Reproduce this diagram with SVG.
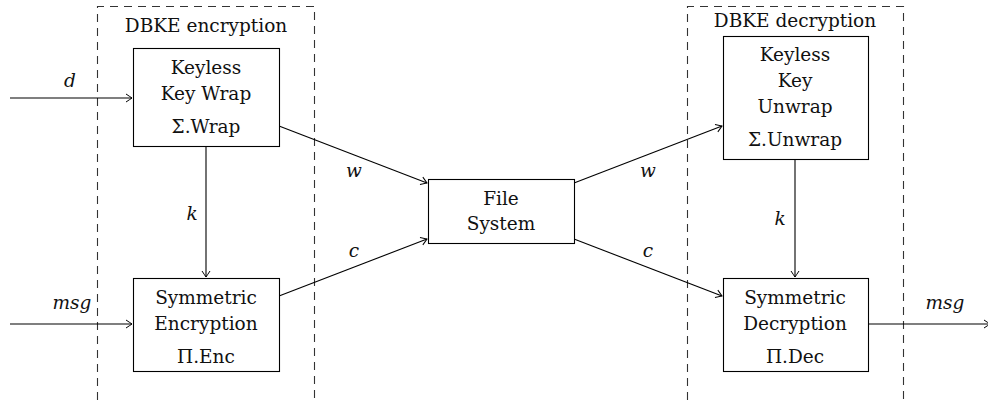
<svg xmlns="http://www.w3.org/2000/svg" width="988" height="402" viewBox="0 0 988 402">
<defs>
<style>
.box{fill:#fff;stroke:#000;stroke-width:1.1}
.dash{fill:none;stroke:#333;stroke-width:1.1;stroke-dasharray:8 6}
.c{fill:none;stroke:#000;stroke-width:1.1}
text{font-family:'DejaVu Serif','Liberation Serif',serif;font-size:18.5px;fill:#111;text-anchor:middle}
.m{font-style:italic}
</style>
<marker id="ar" viewBox="-8 -5 10 10" markerWidth="10" markerHeight="10" refX="0" refY="0" orient="auto" markerUnits="userSpaceOnUse">
<path d="M-6,-4 Q-1.5,-1 0,0 Q-1.5,1 -6,4" fill="none" stroke="#000" stroke-width="1"/>
</marker>
</defs>
<rect width="988" height="402" fill="#fff"/>
<g id="enc-group">
<path class="dash" d="M97.5,400 V6.5 H314.5 V400"/>
<text x="206" y="32">DBKE encryption</text>
</g>
<g id="dec-group">
<path class="dash" d="M687.5,400 V6.5 H903.5 V400"/>
<text x="795" y="27">DBKE decryption</text>
</g>
<g id="connectors">
<line class="c" x1="10" y1="98" x2="132" y2="98" marker-end="url(#ar)"/>
<line class="c" x1="10" y1="324" x2="132" y2="324" marker-end="url(#ar)"/>
<line class="c" x1="206" y1="146" x2="206" y2="277" marker-end="url(#ar)"/>
<line class="c" x1="279" y1="126" x2="427" y2="183" marker-end="url(#ar)"/>
<line class="c" x1="279" y1="296" x2="427" y2="239" marker-end="url(#ar)"/>
<line class="c" x1="574" y1="183" x2="722" y2="126" marker-end="url(#ar)"/>
<line class="c" x1="574" y1="239" x2="722" y2="296" marker-end="url(#ar)"/>
<line class="c" x1="795" y1="159" x2="795" y2="277" marker-end="url(#ar)"/>
<line class="c" x1="868" y1="324" x2="990" y2="324" marker-end="url(#ar)"/>
<text class="m" x="70" y="87">d</text>
<text class="m" x="72" y="309">msg</text>
<text class="m" x="192" y="220">k</text>
<text class="m" x="354" y="177">w</text>
<text class="m" x="354" y="257">c</text>
<text class="m" x="648" y="177">w</text>
<text class="m" x="648" y="257">c</text>
<text class="m" x="780" y="225">k</text>
<text class="m" x="945" y="309">msg</text>
</g>
<g id="wrap">
<rect class="box" x="133.5" y="48.5" width="146" height="98"/>
<text x="206" y="74">Keyless</text>
<text x="206" y="100">Key Wrap</text>
<text x="206" y="133">Σ.Wrap</text>
</g>
<g id="enc">
<rect class="box" x="133.5" y="278.5" width="146" height="93"/>
<text x="206" y="304">Symmetric</text>
<text x="206" y="330">Encryption</text>
<text x="206" y="363">Π.Enc</text>
</g>
<g id="fs">
<rect class="box" x="428.5" y="179.5" width="146" height="64"/>
<text x="501" y="205">File</text>
<text x="501" y="230">System</text>
</g>
<g id="unwrap">
<rect class="box" x="723.5" y="36.5" width="145" height="123"/>
<text x="795" y="61">Keyless</text>
<text x="795" y="87">Key</text>
<text x="795" y="113">Unwrap</text>
<text x="795" y="146">Σ.Unwrap</text>
</g>
<g id="dec">
<rect class="box" x="723.5" y="278.5" width="145" height="93"/>
<text x="795" y="304">Symmetric</text>
<text x="795" y="330">Decryption</text>
<text x="795" y="363">Π.Dec</text>
</g>
</svg>
